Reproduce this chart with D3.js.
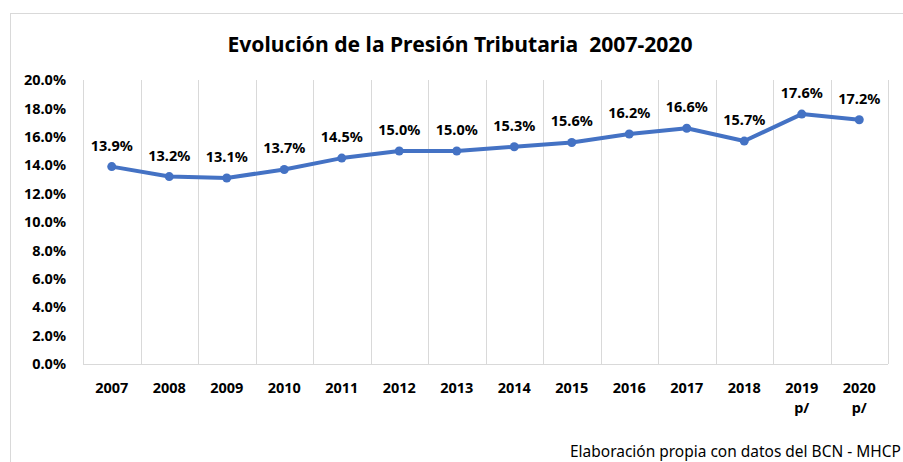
<!DOCTYPE html>
<html>
<head>
<meta charset="utf-8">
<script src="https://cdn.jsdelivr.net/npm/d3@7"></script>
<style>
    body { margin: 0; background: #fff; }
    text { font-family: "Noto Sans", "Open Sans", sans-serif; fill: #000; }
</style>
</head>
<body>
<script>
// Datos
var years = ["2007", "2008", "2009", "2010", "2011", "2012", "2013", "2014", "2015", "2016", "2017", "2018", "2019", "2020"];
var yearNotes = ["", "", "", "", "", "", "", "", "", "", "", "", "p/", "p/"];
var presion = [13.9, 13.2, 13.1, 13.7, 14.5, 15.0, 15.0, 15.3, 15.6, 16.2, 16.6, 15.7, 17.6, 17.2];
var yTicks = [0, 2, 4, 6, 8, 10, 12, 14, 16, 18, 20];

var W = 903, H = 462;
var margin = {top: 80, right: 15, bottom: 98, left: 83};

var svg = d3.select("body")
    .append("svg")
    .attr("width", W)
    .attr("height", H);

// Borde del área del gráfico
svg.append("rect")
    .attr("x", 10.5)
    .attr("y", 13.5)
    .attr("width", W)
    .attr("height", H)
    .attr("fill", "#fff")
    .attr("stroke", "#d9d9d9")
    .attr("stroke-width", 1);

// Ajustar texto a un ancho
function fit(sel, target) {
    var fs = parseFloat(sel.style("font-size"));
    var w = sel.node().getComputedTextLength();
    sel.style("font-size", (fs * target / w).toFixed(2) + "px");
}

// Título
var title = svg.append("text")
    .attr("x", 460)
    .attr("y", 52)
    .attr("text-anchor", "middle")
    .style("font-size", "20px")
    .style("font-weight", "bold")
    .style("white-space", "pre")
    .text("Evolución de la Presión Tributaria\u00a0\u00a02007-2020");
fit(title, 465);

var x = d3.scaleBand()
    .domain(years)
    .range([margin.left, W - margin.right])
    .padding(0);

var y = d3.scaleLinear()
    .domain([0, 20])
    .range([H - margin.bottom, margin.top]);

// Líneas verticales entre categorías
var edges = years.map(d => x(d)).concat([x.range()[1]]);
svg.selectAll("line.vgrid")
    .data(edges)
    .enter()
    .append("line")
    .attr("class", "vgrid")
    .attr("x1", d => Math.round(d) + 0.5)
    .attr("x2", d => Math.round(d) + 0.5)
    .attr("y1", y(20))
    .attr("y2", y(0))
    .attr("stroke", "#d9d9d9")
    .attr("stroke-width", 1);

// Línea base
svg.append("line")
    .attr("x1", x.range()[0])
    .attr("x2", x.range()[1])
    .attr("y1", Math.round(y(0)) + 0.5)
    .attr("y2", Math.round(y(0)) + 0.5)
    .attr("stroke", "#d9d9d9")
    .attr("stroke-width", 1);

// Eje Y (etiquetas)
var yAxis = d3.axisLeft(y)
    .tickValues(yTicks)
    .tickSize(0)
    .tickPadding(0)
    .tickFormat(d => d.toFixed(1) + "%");
var gy = svg.append("g")
    .attr("transform", "translate(66,0)")
    .call(yAxis);
gy.select(".domain").remove();
gy.selectAll("text")
    .style("font-family", "'Noto Sans', sans-serif")
    .style("font-size", "14.5px")
    .style("font-weight", "bold")
    .attr("fill", "#000");

// Eje X (etiquetas)
var xAxis = d3.axisBottom(x).tickSize(0).tickPadding(0);
var gx = svg.append("g")
    .attr("transform", `translate(0, ${y(0)})`)
    .call(xAxis);
gx.select(".domain").remove();
gx.selectAll("text").remove();
gx.selectAll(".tick").each(function(d, i) {
    var t = d3.select(this).append("text")
        .attr("text-anchor", "middle")
        .attr("y", 29)
        .style("font-size", "14.5px")
        .style("font-weight", "bold")
        .attr("fill", "#000")
        .text(d);
    if (yearNotes[i]) {
        d3.select(this).append("text")
            .attr("text-anchor", "middle")
            .attr("y", 49)
            .style("font-size", "14.5px")
            .style("font-weight", "bold")
            .attr("fill", "#000")
            .text(yearNotes[i]);
    }
});

var cx = (d, i) => x(years[i]) + x.bandwidth() / 2;

// Línea de la serie
var line = d3.line()
    .x((d, i) => cx(d, i))
    .y(d => y(d));

svg.append("path")
    .datum(presion)
    .attr("d", line)
    .attr("fill", "none")
    .attr("stroke", "#4472C4")
    .attr("stroke-width", 4)
    .attr("stroke-linejoin", "round")
    .attr("stroke-linecap", "round");

// Marcadores
svg.selectAll("circle.pt")
    .data(presion)
    .enter()
    .append("circle")
    .attr("class", "pt")
    .attr("cx", (d, i) => cx(d, i))
    .attr("cy", d => y(d))
    .attr("r", 4.5)
    .attr("fill", "#4472C4");

// Etiquetas de datos
svg.selectAll("text.lbl")
    .data(presion)
    .enter()
    .append("text")
    .attr("class", "lbl")
    .attr("x", (d, i) => cx(d, i))
    .attr("y", d => y(d) - 16)
    .attr("text-anchor", "middle")
    .style("font-size", "14.5px")
    .style("font-weight", "bold")
    .text(d => d.toFixed(1) + "%");

// Fuente
var src = svg.append("text")
    .attr("x", 570)
    .attr("y", 457)
    .style("font-size", "14px")
    .text("Elaboración propia con datos del BCN - MHCP");
fit(src, 331);
</script>
</body>
</html>
